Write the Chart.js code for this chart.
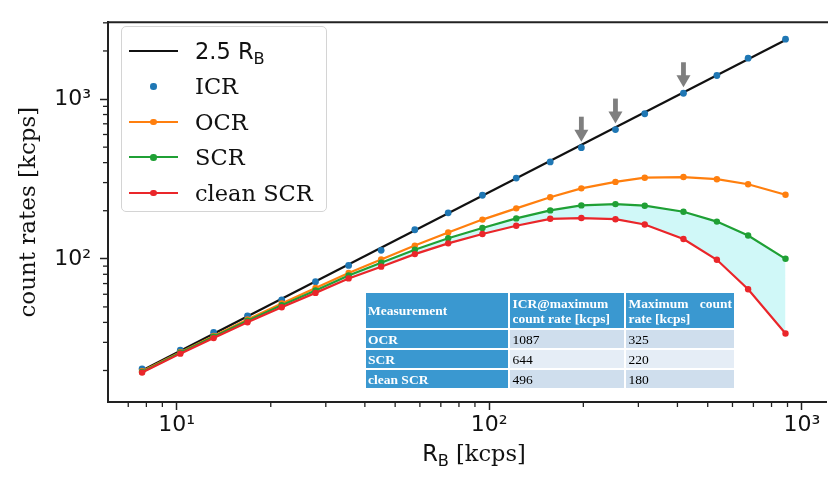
<!DOCTYPE html>
<html>
<head>
<meta charset="utf-8">
<script src="https://cdn.jsdelivr.net/npm/chart.js@4.4.1/dist/chart.umd.min.js"></script>
<style>
  html, body { margin: 0; padding: 0; background: #fff; }
  #wrap { position: relative; width: 830px; height: 482px; overflow: hidden; }
  canvas { display: block; }
  .legend {
    position: absolute; left: 121px; top: 26px; width: 206px; height: 186px;
    box-sizing: border-box; border: 1px solid #d4d4d4; border-radius: 5px;
    background: rgba(255,255,255,0.85);
  }
  .legend .item { position: absolute; left: 0; width: 100%; height: 30px; }
  .legend .ln { position: absolute; left: 7px; width: 49px; height: 2px; top: 14px; }
  .legend .dot { position: absolute; left: 28px; top: 12px; width: 6.5px; height: 6.5px; border-radius: 50%; }
  .legend .txt { position: absolute; left: 73px; top: 0; line-height: 30px; font-size: 22.5px; color: #111; white-space: nowrap; }
  .serif { font-family: "DejaVu Serif", serif; }
  .sans { font-family: "DejaVu Sans", sans-serif; }
  sub { font-size: 0.72em; vertical-align: -0.28em; line-height: 0; }
  #xtitle {
    position: absolute; left: 0; width: 948px; top: 440px; text-align: center;
    font-size: 22.5px; color: #111; white-space: nowrap;
  }
  table.stats {
    position: absolute; left: 365px; top: 292px; width: 370px;
    border-collapse: separate; border-spacing: 0;
    font-family: "Liberation Serif", "Times New Roman", serif; font-size: 13.5px;
  }
  table.stats td { border: 1px solid #fff; padding: 0 2px; height: 18px; line-height: 15px; color: #000; }
  table.stats tr.head td { height: 35px; background: #3a98d0; color: #fff; font-weight: bold; }
  table.stats td.name { background: #3a98d0; color: #fff; font-weight: bold; }
  table.stats tr.odd td.val { background: #cfdeed; }
  table.stats tr.even td.val { background: #e5edf6; }
  .just { display: flex; justify-content: space-between; }
</style>
</head>
<body>
<div id="wrap">
  <canvas id="c" width="830" height="482"></canvas>
  <div class="legend" id="legend"></div>
  <div id="xtitle"><span class="sans">R<sub>B</sub></span><span class="serif"> [kcps]</span></div>
  <table class="stats" id="stats"></table>
</div>
<script>
// Measured rates versus the beam rate R_B (kcps)
const rB       = [7.75, 10.27, 13.13, 16.85, 21.68, 27.81, 35.49, 45.10, 57.8, 73.9, 95.1, 122.0, 156.7, 197.1, 253.4, 314.4, 418.2, 534.9, 673.3, 886.8];
const icr      = [20.5, 26.8, 34.6, 44.0, 55.4, 71.9, 90.9, 113.1, 152, 194, 250, 320, 404, 496, 644, 809, 1087, 1404, 1802, 2371];
const ocr      = [19.8, 26.0, 32.9, 41.7, 52.6, 65.6, 81.5, 99.0, 121, 146, 176, 207, 243, 276, 303, 322, 325, 315, 293, 252];
const scr      = [19.6, 25.8, 32.5, 41.0, 51.3, 63.4, 78.6, 94.5, 114, 134.5, 156, 179, 201, 216, 220, 215, 197, 171, 140, 100];
const cleanScr = [19.4, 25.5, 31.9, 40.1, 49.8, 61.2, 75.4, 89.3, 107, 125, 143, 161, 178, 180, 177, 164, 133, 98.6, 64.5, 34.1];

// Reference line 2.5·R_B (end points; straight on log-log axes)
const refLineX = [7.75, 886.8];
const refLineY = [20.0, 2340];

// Axis decades and their labels
const majorTicks = [10, 100, 1000];
const majorTickLabels = ['10\u00B9', '10\u00B2', '10\u00B3'];

// Summary table
const tableHeader = ['Measurement', ['ICR@maximum', 'count rate [kcps]'], ['Maximum count', 'rate [kcps]']];
const tableRows = ['OCR', 'SCR', 'clean SCR'];
const icrAtMax = [1087, 644, 496];
const maxRate = [325, 220, 180];

const C_BLACK = '#111111', C_BLUE = '#1f77b4', C_ORANGE = '#ff7f0e', C_GREEN = '#1fa035', C_RED = '#ea262a';
const AXIS = '#222222';

const pts = (xs, ys) => xs.map((x, i) => ({ x, y: ys[i] }));

// ---------- legend ----------
const legendItems = [
  { html: '<span class="sans">2.5 R<sub>B</sub></span>', color: C_BLACK, line: true, dot: false },
  { html: '<span class="serif">ICR</span>', color: C_BLUE, line: false, dot: true },
  { html: '<span class="serif">OCR</span>', color: C_ORANGE, line: true, dot: true },
  { html: '<span class="serif">SCR</span>', color: C_GREEN, line: true, dot: true },
  { html: '<span class="serif">clean SCR</span>', color: C_RED, line: true, dot: true }
];
const legendEl = document.getElementById('legend');
legendItems.forEach((it, i) => {
  const d = document.createElement('div');
  d.className = 'item';
  d.style.top = (8.5 + 35.5 * i) + 'px';
  let h = '';
  if (it.line) h += '<div class="ln" style="background:' + it.color + '"></div>';
  if (it.dot) h += '<div class="dot" style="background:' + it.color + '"></div>';
  h += '<div class="txt">' + it.html + '</div>';
  d.innerHTML = h;
  legendEl.appendChild(d);
});

// ---------- table ----------
const tbl = document.getElementById('stats');
let th = '<tr class="head">';
tableHeader.forEach((h, j) => {
  const w = [151, 113, 106][j];
  if (Array.isArray(h)) {
    const first = j === 2 ? '<div class="just"><span>' + h[0].split(' ')[0] + '</span><span>' + h[0].split(' ')[1] + '</span></div>' : '<div>' + h[0] + '</div>';
    th += '<td style="width:' + w + 'px">' + first + '<div>' + h[1] + '</div></td>';
  } else {
    th += '<td style="width:' + w + 'px">' + h + '</td>';
  }
});
th += '</tr>';
tableRows.forEach((r, i) => {
  th += '<tr class="' + (i % 2 === 0 ? 'odd' : 'even') + '"><td class="name">' + r + '</td><td class="val">' + icrAtMax[i] + '</td><td class="val">' + maxRate[i] + '</td></tr>';
});
tbl.innerHTML = th;

// ---------- plugins ----------
const minorTicks = {
  id: 'minorTicks',
  afterDraw(chart) {
    const { ctx } = chart;
    const area = chart.chartArea;
    ctx.save();
    ctx.strokeStyle = AXIS;
    ctx.lineWidth = 1.3;
    ['x', 'y'].forEach(id => {
      const s = chart.scales[id];
      const e0 = Math.floor(Math.log10(s.min)), e1 = Math.ceil(Math.log10(s.max));
      for (let e = e0; e <= e1; e++) {
        for (let m = 2; m <= 9; m++) {
          const v = m * Math.pow(10, e);
          if (v < s.min || v > s.max) continue;
          const p = s.getPixelForValue(v);
          ctx.beginPath();
          if (id === 'x') { ctx.moveTo(p, area.bottom); ctx.lineTo(p, area.bottom + 5); }
          else { ctx.moveTo(area.left, p); ctx.lineTo(area.left - 5, p); }
          ctx.stroke();
        }
      }
    });
    // top edge of the frame
    ctx.lineWidth = 2;
    ctx.beginPath();
    ctx.moveTo(area.left - 1, area.top);
    ctx.lineTo(area.right + 2, area.top);
    ctx.stroke();
    ctx.restore();
  }
};

const maxArrows = {
  id: 'maxArrows',
  afterDatasetsDraw(chart) {
    const { ctx } = chart;
    const xs = chart.scales.x, ys = chart.scales.y;
    ctx.save();
    ctx.fillStyle = '#7f7f7f';
    icrAtMax.forEach(v => {
      const i = icr.indexOf(v);
      if (i < 0) return;
      const px = xs.getPixelForValue(rB[i]);
      const py = ys.getPixelForValue(icr[i]);
      const tip = py - 6;
      ctx.fillRect(px - 2.4, tip - 25, 4.8, 15);
      ctx.beginPath();
      ctx.moveTo(px - 7, tip - 12);
      ctx.lineTo(px + 7, tip - 12);
      ctx.lineTo(px, tip);
      ctx.closePath();
      ctx.fill();
    });
    ctx.restore();
  }
};

const tickFont = { family: 'DejaVu Sans', size: 22 };
const keepMajors = s => {
  s.ticks = majorTicks.filter(v => v >= s.min && v <= s.max).map(v => ({ value: v, major: true }));
};
const majorLabel = v => {
  const k = majorTicks.indexOf(v);
  return k >= 0 ? majorTickLabels[k] : '';
};

new Chart(document.getElementById('c'), {
  type: 'line',
  data: {
    datasets: [
      { label: '2.5 R_B', data: pts(refLineX, refLineY), borderColor: C_BLACK, borderWidth: 2.2, pointRadius: 0, fill: false, order: 4 },
      { label: 'ICR', data: pts(rB, icr), showLine: false, pointRadius: 3.4, pointBorderWidth: 0, pointBackgroundColor: C_BLUE, borderColor: C_BLUE, order: 3 },
      { label: 'OCR', data: pts(rB, ocr), borderColor: C_ORANGE, borderWidth: 2.2, pointRadius: 3.2, pointBorderWidth: 0, pointBackgroundColor: C_ORANGE, fill: false, order: 2 },
      { label: 'SCR', data: pts(rB, scr), borderColor: C_GREEN, borderWidth: 2.2, pointRadius: 3.2, pointBorderWidth: 0, pointBackgroundColor: C_GREEN, fill: false, order: 1 },
      { label: 'clean SCR', data: pts(rB, cleanScr), borderColor: C_RED, borderWidth: 2.2, pointRadius: 3.2, pointBorderWidth: 0, pointBackgroundColor: C_RED,
        fill: '-1', backgroundColor: 'rgba(120,235,235,0.35)', order: 0 }
    ]
  },
  options: {
    responsive: false,
    animation: false,
    devicePixelRatio: 1,
    layout: { padding: { top: 15, left: 0, right: 0, bottom: 0 } },
    plugins: {
      legend: { display: false },
      tooltip: { enabled: false },
      filler: { drawTime: 'beforeDatasetsDraw' }
    },
    elements: { line: { tension: 0 } },
    scales: {
      x: {
        type: 'logarithmic', position: 'bottom', min: 6.03, max: 1195,
        afterBuildTicks: keepMajors,
        afterFit: s => { s.height = 80; },
        ticks: { callback: majorLabel, font: tickFont, color: '#111', padding: 2, maxRotation: 0, autoSkip: false },
        grid: { display: true, drawOnChartArea: false, drawTicks: true, tickLength: 8, tickColor: AXIS, tickWidth: 1.5 },
        border: { display: true, color: AXIS, width: 2 }
      },
      y: {
        type: 'logarithmic', position: 'left', min: 12.7, max: 3027,
        afterBuildTicks: keepMajors,
        afterFit: s => { s.width = 108; },
        ticks: { callback: majorLabel, font: tickFont, color: '#111', padding: 9, autoSkip: false },
        grid: { display: true, drawOnChartArea: false, drawTicks: true, tickLength: 8, tickColor: AXIS, tickWidth: 1.5 },
        border: { display: true, color: AXIS, width: 2 },
        title: { display: true, text: 'count rates [kcps]', color: '#111', font: { family: 'DejaVu Serif', size: 23 }, padding: { top: 15, bottom: 0 } }
      }
    }
  },
  plugins: [minorTicks, maxArrows]
});
</script>
</body>
</html>
